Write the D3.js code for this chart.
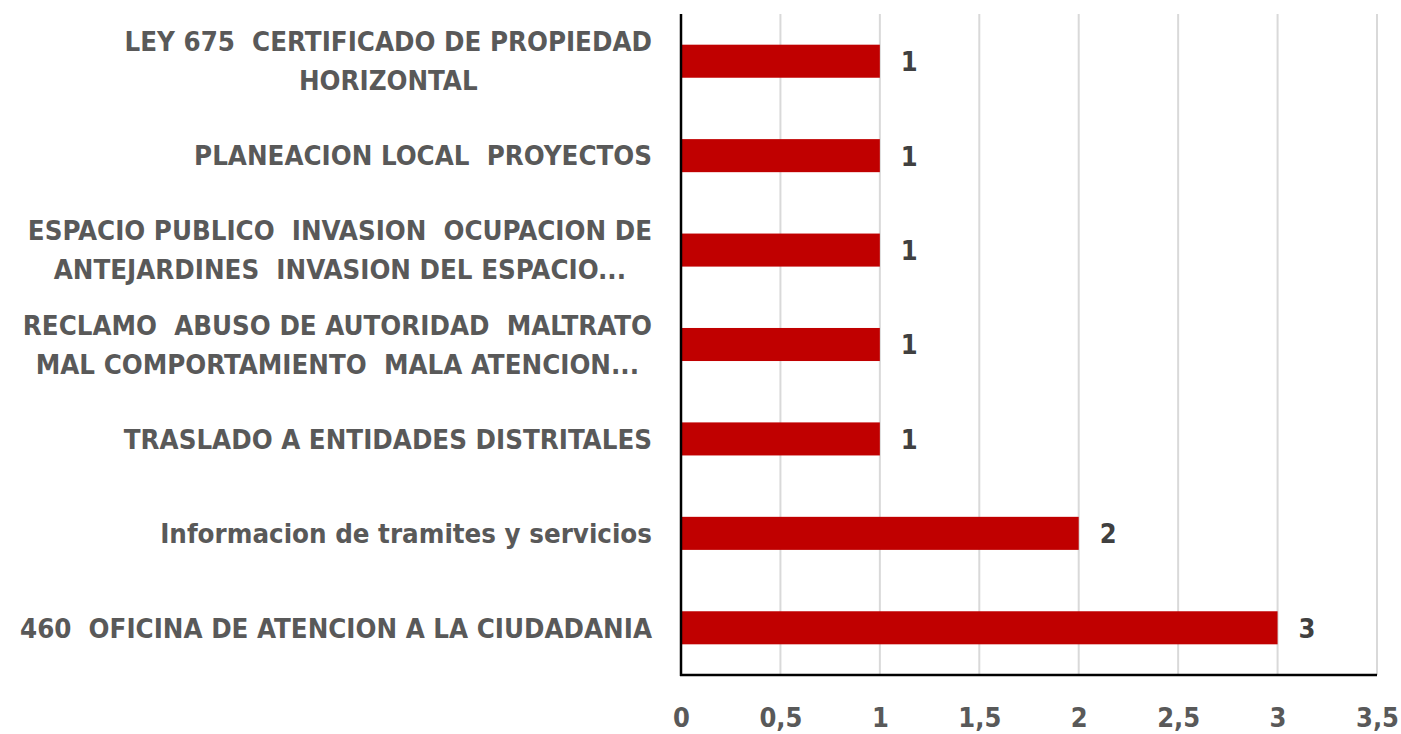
<!DOCTYPE html>
<html><head><meta charset="utf-8">
<script src="https://cdn.jsdelivr.net/npm/d3@7"></script>
<style>html,body{margin:0;padding:0;background:#fff;}svg{display:block;} text{white-space:pre;}</style>
</head><body>
<svg id="chart" width="1401" height="734"></svg>
<script>
const categories = [
  ["LEY 675  CERTIFICADO DE PROPIEDAD", "HORIZONTAL"],
  ["PLANEACION LOCAL  PROYECTOS"],
  ["ESPACIO PUBLICO  INVASION  OCUPACION DE", "ANTEJARDINES  INVASION DEL ESPACIO..."],
  ["RECLAMO  ABUSO DE AUTORIDAD  MALTRATO", "MAL COMPORTAMIENTO  MALA ATENCION..."],
  ["TRASLADO A ENTIDADES DISTRITALES"],
  ["Informacion de tramites y servicios"],
  ["460  OFICINA DE ATENCION A LA CIUDADANIA"]
];
const values = [1, 1, 1, 1, 1, 2, 3];
const xTicks = [0, 0.5, 1, 1.5, 2, 2.5, 3, 3.5];
const tickLabels = ["0", "0,5", "1", "1,5", "2", "2,5", "3", "3,5"];

(function () {
const svg = d3.select("#chart");
const mLeft = 681, mRight = 1377, mTop = 14, mBottom = 675;
const fontFam = "'DejaVu Sans Condensed', 'DejaVu Sans', sans-serif";

const x = d3.scaleLinear().domain([0, 3.5]).range([mLeft, mRight]);
const y = d3.scaleBand().domain(d3.range(categories.length)).range([mTop, mBottom]).paddingInner(0.65).paddingOuter(0.325);

svg.append("g").selectAll("line").data(xTicks.slice(1)).join("line")
  .attr("x1", d => x(d)).attr("x2", d => x(d))
  .attr("y1", mTop).attr("y2", mBottom)
  .attr("stroke", "#d9d9d9").attr("stroke-width", 2);

svg.append("g").selectAll("rect").data(values).join("rect")
  .attr("x", x(0)).attr("y", (d, i) => y(i))
  .attr("width", d => x(d) - x(0)).attr("height", y.bandwidth())
  .attr("fill", "#c00000");

svg.append("line").attr("x1", mLeft).attr("x2", mLeft).attr("y1", mTop).attr("y2", mBottom + 1)
  .attr("stroke", "#000").attr("stroke-width", 2.5);
svg.append("line").attr("x1", mLeft - 1).attr("x2", mRight).attr("y1", mBottom).attr("y2", mBottom)
  .attr("stroke", "#000").attr("stroke-width", 2.5);

const xAxis = d3.axisBottom(x).tickValues(xTicks).tickFormat((d, i) => tickLabels[i]).tickSize(0).tickPadding(0);
const gx = svg.append("g").attr("transform", `translate(0,${mBottom})`).call(xAxis);
gx.select(".domain").remove();
gx.selectAll("text").attr("y", 52).attr("dy", 0)
  .attr("font-family", fontFam).attr("font-size", 27).attr("font-weight", "bold")
  .attr("fill", "#595959");

svg.append("g").selectAll("text").data(values).join("text")
  .attr("x", d => x(d) + 21).attr("y", (d, i) => y(i) + y.bandwidth() / 2)
  .attr("dy", "0.37em")
  .attr("font-family", fontFam).attr("font-size", 27).attr("font-weight", "bold")
  .attr("fill", "#404040").text(d => d);

const labelRight = 652;
const lineGap = 39;
const fs = 27;
const lab = svg.append("g");
const groups = categories.map((lines, i) => {
  const g = lab.append("g");
  const cy = y(i) + y.bandwidth() / 2;
  return lines.map((t, j) => g.append("text")
    .attr("xml:space", "preserve")
    .attr("font-family", fontFam).attr("font-size", fs).attr("font-weight", "bold")
    .attr("fill", "#595959").attr("text-anchor", "middle")
    .attr("y", cy + (j - (lines.length - 1) / 2) * lineGap).attr("dy", "0.36em")
    .text(t));
});
let maxW = 0;
groups.forEach(ts => ts.forEach(t => { maxW = Math.max(maxW, t.node().getComputedTextLength()); }));
const k = 632 / maxW;
groups.forEach(ts => {
  const ws = ts.map(t => t.node().getComputedTextLength() * k);
  const w = d3.max(ws);
  ts.forEach((t, j) => t.attr("textLength", ws[j]).attr("lengthAdjust", "spacingAndGlyphs")
    .attr("x", labelRight - w / 2));
});
})();
</script>
</body></html>
